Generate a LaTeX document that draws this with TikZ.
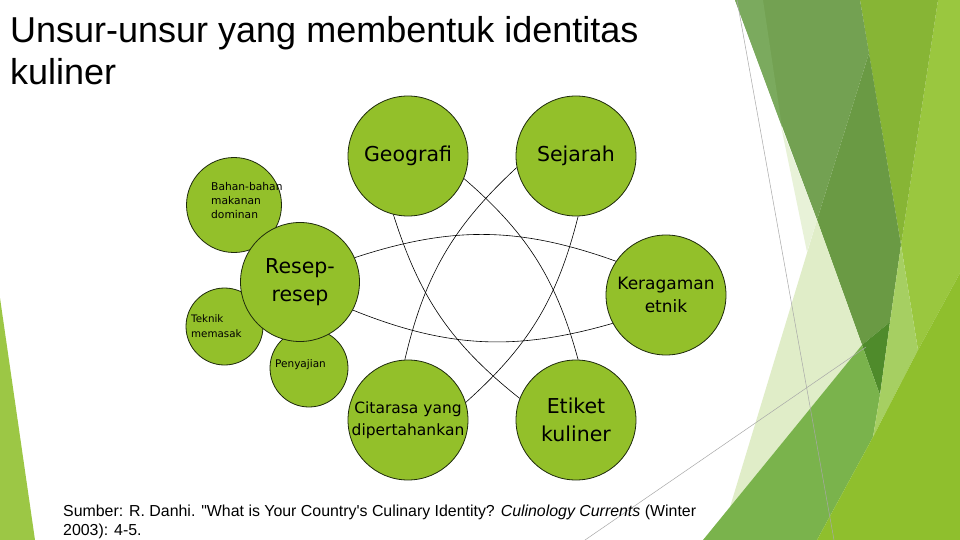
\documentclass[tikz,border=0pt]{standalone}
\usepackage{fontspec}
\setmainfont{Liberation Sans}
\newfontfamily\srcfont{Liberation Sans}
\newfontfamily\cfont{DejaVu Sans}
\definecolor{cfill}{HTML}{93C02A}
\definecolor{cline}{HTML}{1E2A0C}
\definecolor{dB}{HTML}{9AC73F}
\definecolor{dO}{HTML}{87B535}
\definecolor{dBandA}{HTML}{7BAA5E}
\definecolor{dBandL}{HTML}{73A152}
\definecolor{dBandD}{HTML}{6A9A44}
\definecolor{dL}{HTML}{A6CF62}
\definecolor{dD}{HTML}{4F8B2B}
\definecolor{dM}{HTML}{7AB34C}
\definecolor{dY}{HTML}{8FBF2D}
\definecolor{dP}{HTML}{E0EDC8}
\definecolor{dP2}{HTML}{E8F2D8}
\definecolor{dS}{HTML}{9CC745}
\definecolor{gl}{HTML}{A8A8A8}
\begin{document}
\begin{tikzpicture}[x=1pt,y=-1pt,
  circ/.style={circle,draw=cline,line width=0.8pt,fill=cfill,inner sep=0pt,align=center,text=black},
  link/.style={draw=black,line width=0.6pt},
  thinline/.style={draw=gl,line width=0.5pt},
  bigtxt/.style={font=\cfont\fontsize{20.5}{28}\selectfont},
  midtxt/.style={font=\cfont\fontsize{17}{23}\selectfont},
  citxt/.style={font=\cfont\fontsize{15.5}{22}\selectfont},
  smalltxt/.style={align=left,inner sep=0pt,anchor=west},
  ttl/.style={font=\fontsize{36}{42}\selectfont,anchor=base west,inner sep=0pt},
  src/.style={font=\srcfont\fontsize{15.9}{19}\selectfont,anchor=base west,inner sep=0pt}
]
\useasboundingbox (0,0) rectangle (960,540);
\fill[white] (0,0) rectangle (960,540);
% left sliver
\fill[dS] (0,298) -- (35,540) -- (0,540) -- cycle;
% right facets
\fill[dB] (938,0) -- (960,0) -- (960,273) -- (918,350) -- (901,245) -- cycle;
\fill[dO] (860,0) -- (938,0) -- (901,245) -- cycle;
\fill[dBandL] (735,0) -- (860,0) -- (869,53) -- (817,220) -- cycle;
\fill[dBandA] (735,0) -- (763,0) -- (782,127) -- cycle;
\fill[dBandD] (869,53) -- (901,245) -- (890,322) -- (862,345) -- (817,220) -- cycle;
\fill[dD] (862,345) -- (890,322) -- (880,395) -- cycle;
\fill[dP] (817,220) -- (862,345) -- (730,507) -- cycle;
\fill[dP2] (781,126) -- (817,220) -- (807,252) -- cycle;
\fill[dM] (703,540) -- (862,345) -- (880,395) -- (873,437) -- (817,540) -- cycle;
\fill[dL] (901,245) -- (918,350) -- (873,437) -- (880,395) -- (890,322) -- cycle;
\fill[dY] (817,540) -- (960,540) -- (960,273) -- (918,350) -- (873,437) -- cycle;
\draw[thinline] (585,540) -- (866,347);
\draw[thinline] (737,0) -- (834,540);
% circles
\node[circ,minimum size=95pt] (bahan) at (234,205) {};
\node[circ,minimum size=77pt] (teknik) at (224.5,326.5) {};
\node[circ,minimum size=78pt] (penyajian) at (309,368) {};
\node[circ,minimum size=119pt,bigtxt] (resep) at (300,282) {Resep-\\resep};
\node[circ,minimum size=120pt,bigtxt] (geo) at (408,156) {Geografi};
\node[circ,minimum size=120pt,bigtxt] (sej) at (576,156) {Sejarah};
\node[circ,minimum size=120pt,midtxt] (ker) at (666,295) {Keragaman\\etnik};
\node[circ,minimum size=120pt,bigtxt] (eti) at (576,420) {Etiket\\kuliner};
\node[circ,minimum size=120pt,citxt] (cit) at (408,420) {Citarasa yang\\dipertahankan};
% small labels
\node[smalltxt,font=\cfont\fontsize{10.7}{14}\selectfont] (bahanT) at (211,201) {Bahan-bahan\\makanan\\dominan};
\node[smalltxt,font=\cfont\fontsize{10.3}{15}\selectfont] (teknikT) at (191,326.5) {Teknik\\memasak};
\node[smalltxt,font=\cfont\fontsize{10.5}{14}\selectfont] (penT) at (275,365) {Penyajian};
% connectors
\draw[link] (resep.24) to[bend left=19] (ker.146);
\draw[link] (resep.-28) to[bend right=19] (ker.208);
\draw[link] (geo.-22) to[bend left=17] (eti.88);
\draw[link] (geo.-104) to[bend right=17] (eti.159);
\draw[link] (sej.191) to[bend right=17] (cit.93);
\draw[link] (sej.-88) to[bend left=17] (cit.17);
% title and source
\node[ttl] (t1) at (10,43) {Unsur-unsur yang membentuk identitas};
\node[ttl] (t2) at (10,85) {kuliner};
\node[src] (s1) at (63,516) {Sumber: R. Danhi. "What is Your Country's Culinary Identity? \textit{Culinology Currents} (Winter};
\node[src] (s2) at (63,535) {2003): 4-5.};
\end{tikzpicture}
\end{document}
